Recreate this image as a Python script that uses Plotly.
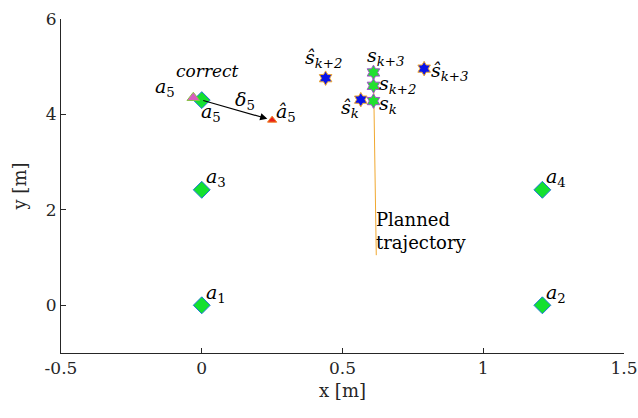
import plotly.graph_objects as go

# anchors a1..a5
anchor_names = ["a1", "a2", "a3", "a4", "a5"]
anchor_x = [0.0, 1.21, 0.0, 1.21, 0.0]
anchor_y = [0.0, 0.0, 2.42, 2.42, 4.30]

a5_correct = (-0.03, 4.35)
a5_hat = (0.25, 3.88)

# true states s_k, s_k+2, s_k+3
s_x = [0.61, 0.61, 0.61]
s_y = [4.28, 4.60, 4.88]
# estimated states
shat_x = [0.565, 0.44, 0.79]
shat_y = [4.31, 4.76, 4.96]

traj_x = [0.61, 0.62]
traj_y = [4.88, 1.05]

xticks = [-0.5, 0, 0.5, 1, 1.5]
xticklabels = ["-0.5", "0", "0.5", "1", "1.5"]
yticks = [0, 2, 4, 6]

FONT = "DejaVu Serif, Liberation Serif, serif"

fig = go.Figure()

fig.add_trace(go.Scatter(x=traj_x, y=traj_y, mode="lines",
                         line=dict(color="#F0A830", width=1), showlegend=False))

fig.add_trace(go.Scatter(x=anchor_x, y=anchor_y, mode="markers",
                         marker=dict(symbol="diamond", size=13, color="#14E030",
                                     line=dict(color="#1F78D8", width=1)),
                         showlegend=False))

fig.add_trace(go.Scatter(x=[a5_correct[0]], y=[a5_correct[1]], mode="markers",
                         marker=dict(symbol="triangle-up", size=11, color="#D85CC0",
                                     line=dict(color="#8CC04A", width=1)),
                         showlegend=False))

fig.add_trace(go.Scatter(x=[a5_hat[0]], y=[a5_hat[1]], mode="markers",
                         marker=dict(symbol="triangle-up", size=8, color="#E8201A",
                                     line=dict(color="#F08020", width=1)),
                         showlegend=False))

fig.add_trace(go.Scatter(x=s_x, y=s_y, mode="markers",
                         marker=dict(symbol="hexagram", size=11, color="#22E030",
                                     line=dict(color="#A050C8", width=1)),
                         showlegend=False))

fig.add_trace(go.Scatter(x=shat_x, y=shat_y, mode="markers",
                         marker=dict(symbol="hexagram", size=11, color="#0A14E8",
                                     line=dict(color="#F0A830", width=1)),
                         showlegend=False))

# arrow a5 -> a5_hat
fig.add_annotation(x=a5_hat[0], y=a5_hat[1], ax=anchor_x[4], ay=anchor_y[4],
                   xref="x", yref="y", axref="x", ayref="y", text="",
                   showarrow=True, arrowhead=2, arrowsize=1.2, arrowwidth=1.2,
                   arrowcolor="black", standoff=5)

def lab(x, y, text, dx, dy, size=19, xa="left", ya="middle", align="center"):
    fig.add_annotation(x=x, y=y, text=text, showarrow=False, xshift=dx, yshift=dy,
                       xanchor=xa, yanchor=ya, align=align,
                       font=dict(family=FONT, size=size, color="black"))

sub = lambda b, s: f"<i>{b}</i><sub><i>{s}</i></sub>" if "k" in s else f"<i>{b}</i><sub>{s}</sub>"

lab(anchor_x[0], anchor_y[0], sub("a", "1"), 2, 12)
lab(anchor_x[1], anchor_y[1], sub("a", "2"), 2, 12)
lab(anchor_x[2], anchor_y[2], sub("a", "3"), 2, 12)
lab(anchor_x[3], anchor_y[3], sub("a", "4"), 2, 12)
lab(anchor_x[4], anchor_y[4], sub("a", "5"), -3, -12)
lab(a5_correct[0], a5_correct[1], sub("a", "5"), -40, 10)
lab(a5_correct[0], a5_correct[1], "<i>correct</i>", -19, 27, size=17)
lab(0.11, 4.3, sub("δ", "5"), 0, 0)
lab(a5_hat[0], a5_hat[1], sub("â", "5"), 2, 8)
lab(s_x[0], s_y[0], sub("s", "k"), 4, -3)
lab(s_x[1], s_y[1], sub("s", "k+2"), 4, 1)
lab(s_x[2], s_y[2], sub("s", "k+3"), -8, 16)
lab(shat_x[0], shat_y[0], sub("ŝ", "k"), 0, -9, xa="right")
lab(shat_x[1], shat_y[1], sub("ŝ", "k+2"), -2, 20, xa="center")
lab(shat_x[2], shat_y[2], sub("ŝ", "k+3"), 5, -3)
lab(traj_x[1], 1.55, "Planned<br>trajectory", -2, 0, size=18, align="left")

fig.update_layout(
    width=638, height=418,
    margin=dict(l=61, r=14, t=19, b=65, autoexpand=False),
    plot_bgcolor="white", paper_bgcolor="white",
    font=dict(family=FONT, size=17, color="#262626"),
    showlegend=False,
)
fig.update_xaxes(range=[-0.5, 1.5], tickvals=xticks, ticktext=xticklabels,
                 showline=True, linecolor="#262626", linewidth=1, mirror=False,
                 ticks="inside", ticklen=5, tickcolor="#262626", showgrid=False,
                 automargin=False,
                 zeroline=False, title=dict(text="x [m]", standoff=6,
                                            font=dict(family=FONT, size=18)))
fig.update_yaxes(range=[-1, 6], tickvals=yticks,
                 showline=True, linecolor="#262626", linewidth=1, mirror=False,
                 ticks="inside", ticklen=5, tickcolor="#262626", showgrid=False,
                 automargin=False,
                 zeroline=False, title=dict(text="y [m]", standoff=14,
                                            font=dict(family=FONT, size=18)))

fig.write_html("out.html", config={"displayModeBar": False},
               post_script="document.body.style.margin='0';document.body.style.overflow='hidden';")
